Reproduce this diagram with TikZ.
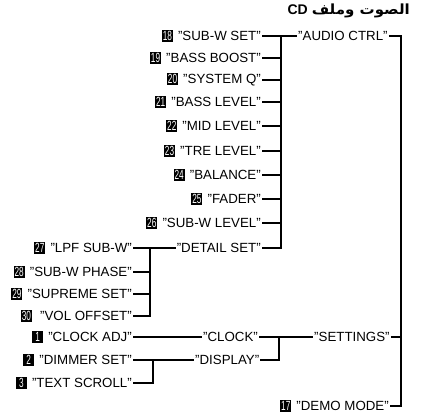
\documentclass[tikz,border=0pt]{standalone}
\usepackage{fontspec}
\usepackage{graphicx}
\setmainfont{Liberation Sans}
\newfontfamily\arabicfont[Script=Arabic]{DejaVu Sans}
\TeXXeTstate=1
\newcommand\nbox[1]{{\setlength{\fboxsep}{1.2pt}\colorbox{black}{\makebox[8.6pt]{\textcolor{white}{\scalebox{0.62}[1]{#1}}}}}\hspace{1.5pt}}

\begin{document}
\begin{tikzpicture}[x=1pt,y=-1pt,
	item/.style={anchor=east,inner sep=1pt,font=\fontsize{13.3}{15}\selectfont},
	head/.style={anchor=west,inner sep=1pt,font=\fontsize{13.3}{15}\selectfont},
	wire/.style={line width=1.5pt}]
			%%%%% START %%%%%
			\useasboundingbox (0,0) rectangle (425,419);
			
			\node[anchor=east,inner sep=0pt,font=\bfseries\fontsize{14}{16}\selectfont] (title) at (410,11) {CD\hspace{4pt}\resizebox{98pt}{\height}{\arabicfont\beginR الصوت وملف\endR}};
			
			% audio ctrl branch
			\node[head] (audio) at (297,36) {"AUDIO CTRL"};
			\node[item] (subwset) at (262,36) {\nbox{18} "SUB-W SET"};
			\node[item] (bassboost) at (262,58) {\nbox{19} "BASS BOOST"};
			\node[item] (systemq) at (262,80) {\nbox{20} "SYSTEM Q"};
			\node[item] (basslevel) at (262,102) {\nbox{21} "BASS LEVEL"};
			\node[item] (midlevel) at (262,126) {\nbox{22} "MID LEVEL"};
			\node[item] (trelevel) at (262,151) {\nbox{23} "TRE LEVEL"};
			\node[item] (balance) at (262,175) {\nbox{24} "BALANCE"};
			\node[item] (fader) at (262,199) {\nbox{25} "FADER"};
			\node[item] (subwlevel) at (262,223) {\nbox{26} "SUB-W LEVEL"};
			\node[item] (detail) at (262,248) {"DETAIL SET"};
			
			\coordinate (audbus) at (281,36);
			\draw[wire] (subwset.east) -- (audio.west);
			\draw[wire] (audbus) -- (audbus |- detail.east) -- (detail.east);
			\foreach \n in {bassboost,systemq,basslevel,midlevel,trelevel,balance,fader,subwlevel}
				\draw[wire] (\n.east) -- (\n.east -| audbus);
			
			% detail set branch
			\node[item] (lpf) at (133,248) {\nbox{27} "LPF SUB-W"};
			\node[item] (subwphase) at (133,272) {\nbox{28} "SUB-W PHASE"};
			\node[item] (supreme) at (133,294) {\nbox{29} "SUPREME SET"};
			\node[item] (voloffset) at (133,316) {\nbox{30}\hspace{3pt} "VOL OFFSET"};
			
			\coordinate (detbus) at (150,248);
			\draw[wire] (lpf.east) -- (detail.west);
			\draw[wire] (detbus) -- (detbus |- voloffset.east) -- (voloffset.east);
			\foreach \n in {subwphase,supreme}
				\draw[wire] (\n.east) -- (\n.east -| detbus);
			
			% settings branch
			\node[head] (settings) at (313,337) {"SETTINGS"};
			\node[head] (clock) at (202,337) {"CLOCK"};
			\node[head] (display) at (194,360) {"DISPLAY"};
			\node[item] (clockadj) at (133,337) {\nbox{1} "CLOCK ADJ"};
			\node[item] (dimmer) at (133,360) {\nbox{2} "DIMMER SET"};
			\node[item] (scroll) at (133,383) {\nbox{3} "TEXT SCROLL"};
			
			\coordinate (setbus) at (279,337);
			\coordinate (disbus) at (153,360);
			\draw[wire] (clockadj.east) -- (clock.west);
			\draw[wire] (clock.east) -- (settings.west);
			\draw[wire] (setbus) -- (setbus |- display.east) -- (display.east);
			\draw[wire] (dimmer.east) -- (display.west);
			\draw[wire] (disbus) -- (disbus |- scroll.east) -- (scroll.east);
			
			% demo mode
			\node[item] (demo) at (390,406) {\nbox{17} "DEMO MODE"};
			
			\coordinate (mainbus) at (401,36);
			\draw[wire] (audio.east) -- (mainbus) -- (mainbus |- demo.east) -- (demo.east);
			\draw[wire] (settings.east) -- (settings.east -| mainbus);
			%%%%% END %%%%%
\end{tikzpicture}
\end{document}
